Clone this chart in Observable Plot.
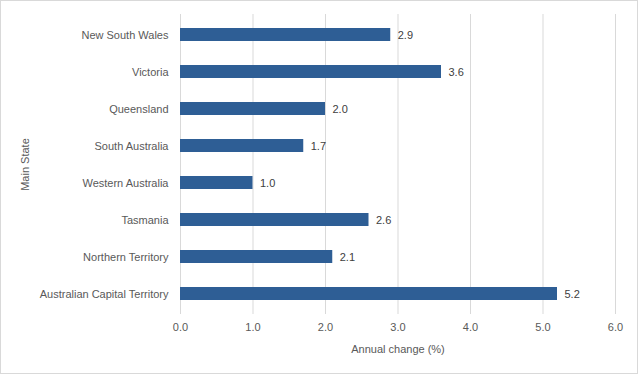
<!DOCTYPE html>
<html>
<head>
<meta charset="utf-8">
<script src="https://cdn.jsdelivr.net/npm/d3@7"></script>
<script src="https://cdn.jsdelivr.net/npm/@observablehq/plot@0.6"></script>
<style>
  html, body { margin: 0; padding: 0; background: #fff; }
  #chart { width: 638px; height: 374px; }
  #chart svg { display: block; }
</style>
</head>
<body>
<div id="chart"></div>
<script>
const states = ["New South Wales", "Victoria", "Queensland", "South Australia", "Western Australia", "Tasmania", "Northern Territory", "Australian Capital Territory"];
const values = [2.9, 3.6, 2.0, 1.7, 1.0, 2.6, 2.1, 5.2];
const xTicks = [0, 1, 2, 3, 4, 5, 6];

const data = states.map((s, i) => ({state: s, value: values[i]}));
const fmt = d3.format(".1f");

const plot = Plot.plot({
  width: 638,
  height: 374,
  marginLeft: 180,
  marginRight: 23,
  marginTop: 14,
  marginBottom: 60,
  style: {fontFamily: "'Liberation Sans', Arial, sans-serif", fontSize: "11px", color: "#595959", background: "#fff"},
  x: {domain: [0, 6]},
  y: {domain: states, paddingInner: 0.64, paddingOuter: 0.32},
  marks: [
    Plot.frame({stroke: "#d9d9d9",
      render: (index, scales, values, dims, context, next) => {
        const g = d3.create("svg:g");
        g.append("rect").attr("x", 0.5).attr("y", 0.5).attr("width", dims.width - 1).attr("height", dims.height - 1)
          .attr("fill", "none").attr("stroke", "#d9d9d9");
        return g.node();
      }}),
    Plot.ruleX(xTicks, {stroke: "#d9d9d9", strokeWidth: 1}),
    Plot.barX(data, {x: "value", y: "state", fill: "#2e5e95"}),
    Plot.text(data, {x: "value", y: "state", text: d => fmt(d.value), textAnchor: "start", dx: 7, fill: "#404040", fontSize: 11}),
    Plot.axisX({ticks: xTicks, tickFormat: fmt, tickSize: 0, tickPadding: 9, label: "Annual change (%)", labelAnchor: "center", labelArrow: "none", labelOffset: 38, fill: "#595959"}),
    Plot.axisY({tickSize: 0, tickPadding: 12, label: "Main State", labelAnchor: "center", labelArrow: "none", labelOffset: 159, fill: "#595959"})
  ]
});
document.getElementById("chart").appendChild(plot);
</script>
</body>
</html>
